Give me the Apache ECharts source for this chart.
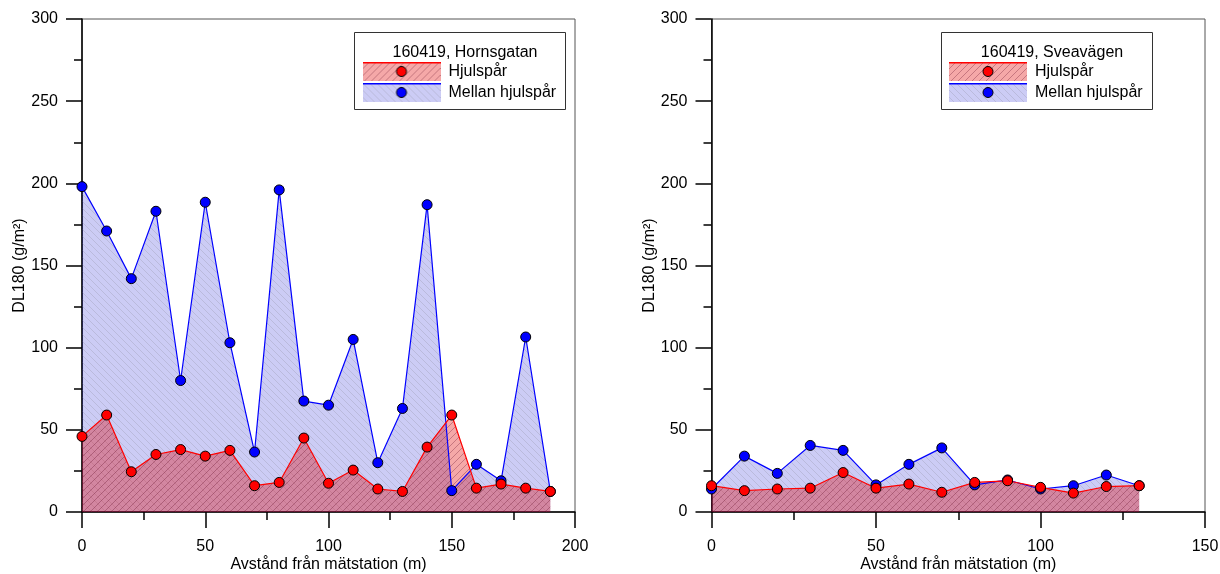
<!DOCTYPE html>
<html>
<head>
<meta charset="utf-8">
<script src="https://cdn.jsdelivr.net/npm/echarts@6/dist/echarts.min.js"></script>
<style>
  html, body { margin: 0; padding: 0; background: #fff; }
  #chart { width: 1220px; height: 574px; }
</style>
</head>
<body>
<div id="chart"></div>
<script>
// Distance from the measuring station (m)
const distHornsgatan = [0, 10, 20, 30, 40, 50, 60, 70, 80, 90, 100, 110, 120, 130, 140, 150, 160, 170, 180, 190];
const distSveavagen = [0, 10, 20, 30, 40, 50, 60, 70, 80, 90, 100, 110, 120, 130];

// DL180 (g/m²), 160419
const hornsgatanHjulspar = [46, 59, 24.5, 35, 38, 34, 37.5, 16, 18, 45, 17.5, 25.5, 14, 12.5, 39.5, 59, 14.5, 17, 14.5, 12.5];
const hornsgatanMellan = [198, 171, 142, 183, 80, 188.5, 103, 36.5, 196, 67.5, 65, 105, 30, 63, 187, 13, 29, 19, 106.5, 12.5];
const sveavagenHjulspar = [16, 13, 14, 14.5, 24, 14.5, 17, 12, 18, 19, 15, 11.5, 15.5, 16];
const sveavagenMellan = [14, 34, 23.5, 40.5, 37.5, 16.5, 29, 39, 16.5, 19.5, 14, 16, 22.5, 16];

const yTicks = { min: 0, max: 300, interval: 50 };
const xMaxHornsgatan = 200;
const xMaxSveavagen = 150;

const NAME_WHEEL = 'Hjulspår';
const NAME_BETWEEN = 'Mellan hjulspår';
const FONT = '"Liberation Sans", Arial, sans-serif';
const FS = 16;

// Hatched fill tile: translucent base colour with diagonal lines
function hatchTile(base, line, dir) {
  const s = 7;
  const c = document.createElement('canvas');
  c.width = s; c.height = s;
  const g = c.getContext('2d');
  g.fillStyle = base;
  g.fillRect(0, 0, s, s);
  g.strokeStyle = line;
  g.lineWidth = 1;
  for (const x0 of [-s, 0, s]) {
    g.beginPath();
    if (dir === 'back') { g.moveTo(x0, 0); g.lineTo(x0 + s, s); }
    else { g.moveTo(x0, s); g.lineTo(x0 + s, 0); }
    g.stroke();
  }
  return c;
}

const blueTile = hatchTile('rgba(0,0,205,0.2)', 'rgba(110,110,120,0.2)', 'back');
const redTile = hatchTile('rgba(225,0,0,0.34)', 'rgba(90,0,30,0.3)', 'fwd');

// Legend swatch: hatched patch with a coloured top edge and a marker
function legendIcon(tile, lineColor, dotColor) {
  const w = 78, h = 19;
  const c = document.createElement('canvas');
  c.width = w; c.height = h;
  const g = c.getContext('2d');
  g.fillStyle = g.createPattern(tile, 'repeat');
  g.fillRect(0, 0, w, h);
  g.strokeStyle = lineColor;
  g.lineWidth = 1.5;
  g.beginPath(); g.moveTo(0, 0.75); g.lineTo(w, 0.75); g.stroke();
  g.beginPath();
  g.arc(w / 2, h / 2, 5, 0, Math.PI * 2);
  g.fillStyle = dotColor; g.fill();
  g.strokeStyle = '#000'; g.lineWidth = 1; g.stroke();
  return 'image://' + c.toDataURL();
}

const iconWheel = legendIcon(redTile, '#ff0000', '#ff0000');
const iconBetween = legendIcon(blueTile, '#0000ff', '#0000ff');

function pairs(xs, ys) { return xs.map((x, i) => [x, ys[i]]); }

function makeSeries(idx, xs, wheel, between) {
  return [
    {
      name: NAME_BETWEEN, type: 'line', xAxisIndex: idx, yAxisIndex: idx,
      data: pairs(xs, between),
      symbol: 'circle', symbolSize: 10,
      itemStyle: { color: '#0000ff', borderColor: '#000', borderWidth: 1 },
      lineStyle: { color: '#0000ff', width: 1.2 },
      areaStyle: { color: { image: blueTile, repeat: 'repeat' }, opacity: 1 },
      emphasis: { disabled: true }, animation: false
    },
    {
      name: NAME_WHEEL, type: 'line', xAxisIndex: idx, yAxisIndex: idx,
      data: pairs(xs, wheel),
      symbol: 'circle', symbolSize: 10,
      itemStyle: { color: '#ff0000', borderColor: '#000', borderWidth: 1 },
      lineStyle: { color: '#ff0000', width: 1.2 },
      areaStyle: { color: { image: redTile, repeat: 'repeat' }, opacity: 1 },
      emphasis: { disabled: true }, animation: false
    }
  ];
}

function xAxis(idx, max) {
  return {
    type: 'value', gridIndex: idx, min: 0, max: max, interval: 50,
    name: 'Avstånd från mätstation (m)', nameLocation: 'middle', nameGap: 45,
    nameMoveOverlap: false,
    nameTextStyle: { fontFamily: FONT, fontSize: FS, color: '#000' },
    axisLine: { onZero: false, lineStyle: { color: '#000', width: 1.5 } },
    axisTick: { length: 16, lineStyle: { color: '#000', width: 1.5 } },
    minorTick: { show: true, splitNumber: 2, length: 8, lineStyle: { color: '#000', width: 1.5 } },
    axisLabel: { fontFamily: FONT, fontSize: FS, color: '#000', margin: 27 },
    splitLine: { show: false }
  };
}

function yAxis(idx) {
  return {
    type: 'value', gridIndex: idx, min: yTicks.min, max: yTicks.max, interval: yTicks.interval,
    name: 'DL180 (g/m²)', nameLocation: 'middle', nameGap: 54, nameRotate: 90,
    nameMoveOverlap: false,
    nameTextStyle: { fontFamily: FONT, fontSize: FS, color: '#000' },
    axisLine: { onZero: false, lineStyle: { color: '#000', width: 1.5 } },
    axisTick: { length: 16, lineStyle: { color: '#000', width: 1.5 } },
    minorTick: { show: true, splitNumber: 2, length: 8, lineStyle: { color: '#000', width: 1.5 } },
    axisLabel: { fontFamily: FONT, fontSize: FS, color: '#000', margin: 24 },
    splitLine: { show: false }
  };
}

function legend(left, top) {
  return {
    left: left, top: top, orient: 'vertical', padding: 0, itemGap: 2,
    itemWidth: 78, itemHeight: 19, selectedMode: false, z: 10,
    textStyle: { fontFamily: FONT, fontSize: FS, color: '#000', padding: [0, 0, 0, 3] },
    data: [
      { name: NAME_WHEEL, icon: iconWheel },
      { name: NAME_BETWEEN, icon: iconBetween }
    ]
  };
}

const chart = echarts.init(document.getElementById('chart'), null, { renderer: 'canvas' });
chart.setOption({
  backgroundColor: '#fff',
  animation: false,
  grid: [
    { left: 82, top: 19, width: 493, height: 493, show: true, borderColor: '#555', borderWidth: 1,
      backgroundColor: 'transparent', containLabel: false, outerBoundsMode: 'none' },
    { left: 711.5, top: 19, width: 493.5, height: 493, show: true, borderColor: '#555', borderWidth: 1,
      backgroundColor: 'transparent', containLabel: false, outerBoundsMode: 'none' }
  ],
  xAxis: [xAxis(0, xMaxHornsgatan), xAxis(1, xMaxSveavagen)],
  yAxis: [yAxis(0), yAxis(1)],
  title: [
    { text: '160419, Hornsgatan', left: 460, top: 40, textAlign: 'center', z: 10,
      textStyle: { fontFamily: FONT, fontSize: FS, fontWeight: 'normal', color: '#000' } },
    { text: '160419, Sveavägen', left: 1047, top: 40, textAlign: 'center', z: 10,
      textStyle: { fontFamily: FONT, fontSize: FS, fontWeight: 'normal', color: '#000' } }
  ],
  legend: [legend(362.5, 62), legend(949, 62)],
  graphic: [
    { type: 'rect', z: 9, shape: { x: 354.5, y: 32.5, width: 211, height: 77 },
      style: { fill: '#fff', stroke: '#333', lineWidth: 1 } },
    { type: 'rect', z: 9, shape: { x: 941.5, y: 32.5, width: 211, height: 77 },
      style: { fill: '#fff', stroke: '#333', lineWidth: 1 } }
  ],
  series: [
    ...makeSeries(0, distHornsgatan, hornsgatanHjulspar, hornsgatanMellan),
    ...makeSeries(1, distSveavagen, sveavagenHjulspar, sveavagenMellan)
  ]
});
</script>
</body>
</html>
